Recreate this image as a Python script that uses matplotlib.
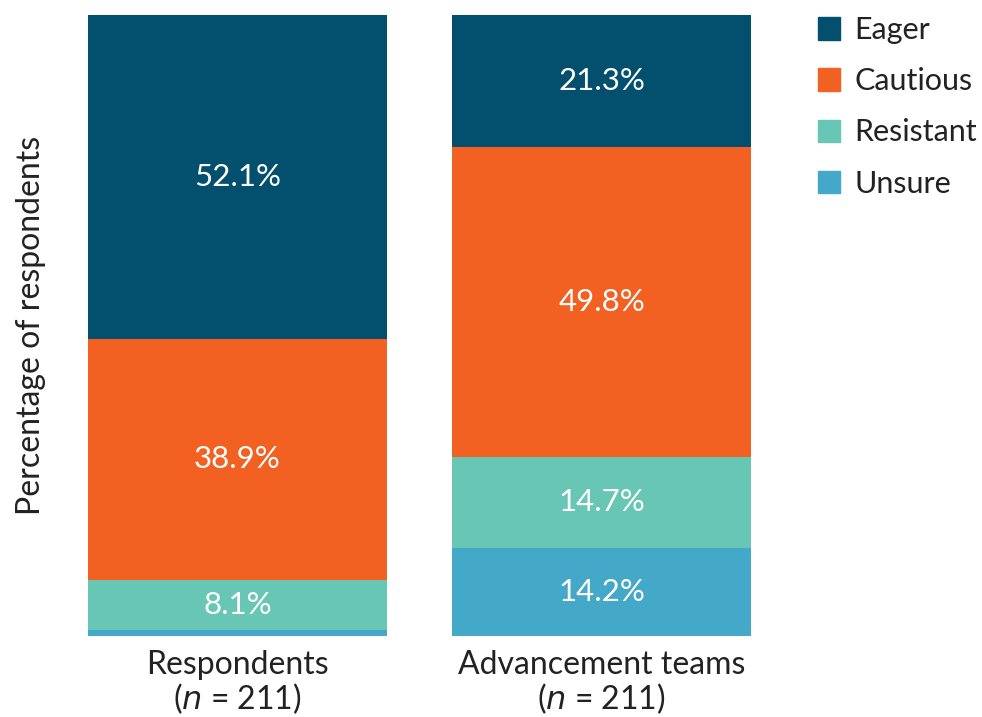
import numpy as np
import matplotlib.pyplot as plt
from matplotlib.patches import Patch

plt.rcParams['font.family'] = ['Lato', 'DejaVu Sans']
plt.rcParams['font.size'] = 23

##########################
# data
groups = ['Respondents\n($\\it{n}$ = 211)', 'Advancement teams\n($\\it{n}$ = 211)']
categories = ['Unsure', 'Resistant', 'Cautious', 'Eager']
unsure = [0.9, 14.2]
resistant = [8.1, 14.7]
cautious = [38.9, 49.8]
eager = [52.1, 21.3]
colors = ['#44a8c8', '#67c6b4', '#f26122', '#034f6e']
##########################

series = [unsure, resistant, cautious, eager]

fig = plt.figure(figsize=(9.82, 7.17), dpi=100)
ax = fig.add_axes([88 / 982, 1 - 636 / 717, (751 - 88) / 982, (636 - 15) / 717])

x = np.arange(len(groups))
bottom = np.zeros(len(groups))
for vals, col in zip(series, colors):
    ax.bar(x, vals, width=0.82, bottom=bottom, color=col, linewidth=0)
    for xi, b, v in zip(x, bottom, vals):
        if v > 5:
            ax.text(xi, b + v / 2, f'{v:.1f}%', ha='center', va='center',
                    color='white', fontsize=22.5)
    bottom += np.array(vals)

ax.set_xlim(-0.41, 1.41)
ax.set_ylim(0, 100)
ax.set_xticks(x)
ax.set_xticklabels(groups, color='#222222', fontsize=23, linespacing=1.05)
ax.tick_params(axis='x', length=0, pad=10)
ax.set_yticks([])
ax.set_ylabel('Percentage of respondents', color='#222222', fontsize=23, labelpad=30)
for s in ax.spines.values():
    s.set_visible(False)

handles = [Patch(color=c, label=l) for c, l in zip(colors[::-1], categories[::-1])]
fig.legend(handles=handles, loc='upper left', bbox_to_anchor=(790 / 982, 1.016),
           frameon=False, fontsize=22, handlelength=0.75, handleheight=0.75,
           handletextpad=0.45, labelspacing=0.76, labelcolor='#222222')

fig.savefig('out.png', dpi=100)
